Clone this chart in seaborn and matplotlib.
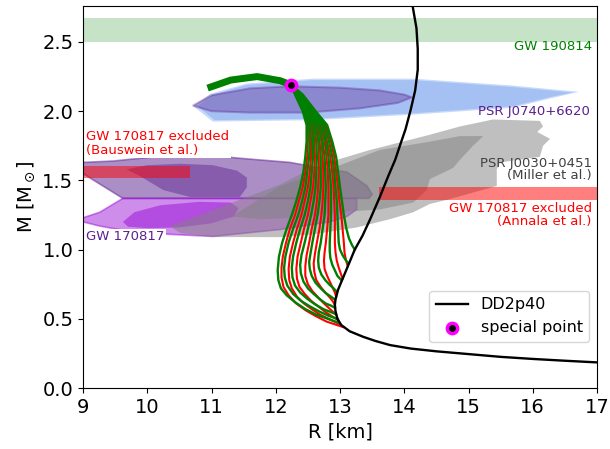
import matplotlib
matplotlib.use("Agg")
import matplotlib.pyplot as plt
import seaborn as sns

# ---------------- data ----------------
# DD2p40 mass-radius relation
dd2_R = [14.10, 14.13, 14.19, 14.21, 14.21, 14.17, 14.10, 14.02, 13.95, 13.86, 13.75, 13.62,
         13.47, 13.35, 13.23, 13.10, 12.97, 12.93, 12.92, 12.93, 12.96, 13.02, 13.15, 13.36,
         13.55, 13.78, 14.10, 14.50, 15.00, 15.50, 16.00, 16.50, 17.00]
dd2_M = [2.85, 2.76, 2.60, 2.45, 2.30, 2.15, 2.01, 1.87, 1.775, 1.65, 1.53, 1.38,
         1.22, 1.10, 1.00, 0.855, 0.71, 0.64, 0.60, 0.555, 0.50, 0.455, 0.41, 0.37,
         0.34, 0.31, 0.285, 0.265, 0.245, 0.225, 0.21, 0.197, 0.185]

# hybrid branches (green family)
g_R = [
    [12.24, 12.30, 12.42, 12.48, 12.48, 12.46, 12.43, 12.38, 12.32, 12.25, 12.17, 12.10, 12.05, 12.03,
     12.04, 12.08, 12.17, 12.30, 12.46, 12.63, 12.81, 12.99],
    [12.24, 12.31, 12.44, 12.52, 12.53, 12.52, 12.49, 12.46, 12.41, 12.35, 12.27, 12.20, 12.15, 12.13,
     12.14, 12.18, 12.27, 12.39, 12.53, 12.69, 12.83, 12.96],
    [12.24, 12.33, 12.47, 12.56, 12.58, 12.58, 12.56, 12.54, 12.50, 12.45, 12.38, 12.32, 12.27, 12.25,
     12.26, 12.30, 12.38, 12.49, 12.61, 12.74, 12.85, 12.93],
    [12.24, 12.34, 12.49, 12.60, 12.63, 12.64, 12.63, 12.62, 12.59, 12.55, 12.50, 12.45, 12.40, 12.38,
     12.39, 12.43, 12.50, 12.59, 12.69, 12.78, 12.86, 12.92],
    [12.24, 12.36, 12.52, 12.64, 12.68, 12.70, 12.70, 12.70, 12.68, 12.65, 12.61, 12.57, 12.54, 12.52,
     12.53, 12.56, 12.62, 12.70, 12.78, 12.86, 12.92],
    [12.24, 12.37, 12.54, 12.68, 12.73, 12.76, 12.77, 12.78, 12.77, 12.76, 12.73, 12.70, 12.67, 12.66,
     12.67, 12.71, 12.77, 12.84, 12.90, 12.94],
    [12.24, 12.38, 12.57, 12.72, 12.78, 12.82, 12.84, 12.86, 12.86, 12.86, 12.85, 12.84, 12.84, 12.85,
     12.88, 12.92, 12.96, 13.02],
    [12.24, 12.40, 12.59, 12.76, 12.83, 12.88, 12.91, 12.93, 12.95, 12.96, 12.97, 12.98, 13.00, 13.04,
     13.08, 13.12],
    [12.24, 12.42, 12.62, 12.80, 12.88, 12.94, 12.97, 13.00, 13.03, 13.06, 13.10, 13.14, 13.19, 13.23],
]
g_M = [
    [2.19, 2.12, 2.00, 1.90, 1.78, 1.67, 1.56, 1.45, 1.35, 1.25, 1.15, 1.05, 0.95, 0.85,
     0.78, 0.72, 0.67, 0.62, 0.57, 0.53, 0.50, 0.47],
    [2.19, 2.12, 2.00, 1.90, 1.78, 1.67, 1.56, 1.45, 1.35, 1.25, 1.15, 1.05, 0.95, 0.87,
     0.80, 0.74, 0.68, 0.63, 0.59, 0.55, 0.52, 0.50],
    [2.19, 2.12, 2.00, 1.90, 1.78, 1.67, 1.56, 1.45, 1.35, 1.25, 1.15, 1.05, 0.95, 0.87,
     0.80, 0.74, 0.69, 0.645, 0.605, 0.57, 0.55, 0.535],
    [2.19, 2.12, 2.00, 1.90, 1.78, 1.67, 1.56, 1.45, 1.35, 1.25, 1.15, 1.05, 0.96, 0.89,
     0.83, 0.77, 0.72, 0.68, 0.64, 0.61, 0.595, 0.58],
    [2.19, 2.12, 2.00, 1.90, 1.78, 1.67, 1.56, 1.45, 1.35, 1.25, 1.15, 1.05, 0.97, 0.91,
     0.86, 0.81, 0.76, 0.72, 0.685, 0.66, 0.64],
    [2.19, 2.12, 2.00, 1.90, 1.78, 1.67, 1.56, 1.45, 1.35, 1.25, 1.15, 1.05, 0.98, 0.92,
     0.87, 0.82, 0.78, 0.745, 0.72, 0.70],
    [2.19, 2.12, 2.00, 1.90, 1.78, 1.67, 1.56, 1.45, 1.35, 1.25, 1.15, 1.05, 0.99, 0.94,
     0.89, 0.85, 0.81, 0.78],
    [2.19, 2.12, 2.00, 1.90, 1.78, 1.67, 1.56, 1.45, 1.35, 1.25, 1.15, 1.05, 1.00, 0.96,
     0.93, 0.905],
    [2.19, 2.12, 2.00, 1.90, 1.78, 1.67, 1.56, 1.45, 1.35, 1.25, 1.15, 1.08, 1.03, 1.00],
]

# hybrid branches (red family)
r_R = [
    [12.24, 12.31, 12.43, 12.50, 12.50, 12.49, 12.46, 12.42, 12.36, 12.30, 12.22, 12.16, 12.11, 12.09,
     12.09, 12.12, 12.20, 12.32, 12.47, 12.62, 12.79, 12.92, 13.05],
    [12.24, 12.32, 12.46, 12.54, 12.55, 12.55, 12.53, 12.50, 12.45, 12.40, 12.33, 12.27, 12.22, 12.20,
     12.21, 12.25, 12.33, 12.44, 12.56, 12.69, 12.82, 12.91, 13.00],
    [12.24, 12.34, 12.48, 12.58, 12.60, 12.61, 12.60, 12.58, 12.54, 12.50, 12.44, 12.39, 12.34, 12.32,
     12.33, 12.37, 12.45, 12.55, 12.66, 12.77, 12.87, 12.97],
    [12.24, 12.35, 12.51, 12.62, 12.66, 12.67, 12.67, 12.66, 12.64, 12.61, 12.56, 12.52, 12.48, 12.46,
     12.46, 12.50, 12.57, 12.65, 12.73, 12.81, 12.88, 12.94],
    [12.24, 12.37, 12.53, 12.66, 12.71, 12.73, 12.74, 12.74, 12.73, 12.71, 12.68, 12.64, 12.61, 12.59,
     12.60, 12.63, 12.70, 12.77, 12.84, 12.89, 12.92],
    [12.24, 12.38, 12.56, 12.70, 12.76, 12.79, 12.81, 12.82, 12.82, 12.82, 12.80, 12.78, 12.76, 12.75,
     12.76, 12.80, 12.85, 12.89, 12.92, 12.94],
    [12.24, 12.39, 12.58, 12.74, 12.80, 12.85, 12.88, 12.90, 12.91, 12.92, 12.92, 12.92, 12.93, 12.95,
     12.98, 13.01, 13.04],
    [12.24, 12.41, 12.61, 12.78, 12.86, 12.91, 12.94, 12.97, 12.99, 13.02, 13.04, 13.06, 13.07, 13.09,
     13.12],
]
r_M = [
    [2.19, 2.12, 2.00, 1.90, 1.78, 1.67, 1.56, 1.45, 1.35, 1.25, 1.15, 1.05, 0.95, 0.87,
     0.80, 0.73, 0.67, 0.61, 0.56, 0.52, 0.48, 0.46, 0.44],
    [2.19, 2.12, 2.00, 1.90, 1.78, 1.67, 1.56, 1.45, 1.35, 1.25, 1.15, 1.05, 0.95, 0.86,
     0.78, 0.72, 0.66, 0.61, 0.57, 0.53, 0.50, 0.48, 0.46],
    [2.19, 2.12, 2.00, 1.90, 1.78, 1.67, 1.56, 1.45, 1.35, 1.25, 1.15, 1.05, 0.95, 0.86,
     0.79, 0.73, 0.68, 0.63, 0.59, 0.55, 0.52, 0.49],
    [2.19, 2.12, 2.00, 1.90, 1.78, 1.67, 1.56, 1.45, 1.35, 1.25, 1.15, 1.05, 0.96, 0.88,
     0.81, 0.75, 0.70, 0.66, 0.62, 0.585, 0.555, 0.53],
    [2.19, 2.12, 2.00, 1.90, 1.78, 1.67, 1.56, 1.45, 1.35, 1.25, 1.15, 1.05, 0.97, 0.90,
     0.84, 0.78, 0.73, 0.69, 0.655, 0.625, 0.60],
    [2.19, 2.12, 2.00, 1.90, 1.78, 1.67, 1.56, 1.45, 1.35, 1.25, 1.15, 1.05, 0.98, 0.92,
     0.86, 0.81, 0.76, 0.72, 0.69, 0.66],
    [2.19, 2.12, 2.00, 1.90, 1.78, 1.67, 1.56, 1.45, 1.35, 1.25, 1.15, 1.05, 0.98, 0.92,
     0.87, 0.83, 0.79],
    [2.19, 2.12, 2.00, 1.90, 1.78, 1.67, 1.56, 1.45, 1.35, 1.25, 1.15, 1.05, 0.98, 0.93,
     0.88],
]

# unstable (thick) branch beyond the special point
top_R = [10.99, 11.30, 11.71, 12.07, 12.24]
top_M = [2.175, 2.225, 2.25, 2.22, 2.19]

special_R = [12.24]
special_M = [2.19]

# PSR J0740+6620 contours
blue1_R = [10.72, 10.98, 11.55, 12.58, 14.14, 15.69, 16.72, 16.30, 15.69, 14.14, 12.58, 11.02]
blue1_M = [2.035, 2.125, 2.20, 2.235, 2.235, 2.185, 2.14, 2.095, 2.025, 1.975, 1.935, 1.925]
blue2_R = [10.78, 11.02, 11.55, 12.58, 14.14, 15.69, 16.62, 16.25, 15.69, 14.14, 12.58, 11.05]
blue2_M = [2.035, 2.12, 2.19, 2.225, 2.225, 2.175, 2.135, 2.10, 2.035, 1.985, 1.945, 1.935]
j0740p_R = [10.71, 11.00, 11.60, 12.22, 13.00, 13.62, 14.00, 14.12, 13.90, 13.30, 12.50, 11.60, 11.00]
j0740p_M = [2.04, 2.115, 2.165, 2.18, 2.17, 2.15, 2.12, 2.10, 2.06, 2.02, 1.99, 1.99, 2.00]

# PSR J0030+0451 contours (Miller et al.)
gray1_R = [10.35, 10.82, 11.44, 12.07, 12.53, 12.89, 13.47, 13.98, 14.40, 14.87, 15.18, 15.38,
           16.11, 16.16, 16.07, 16.27, 16.16, 16.11, 15.49, 15.44, 15.44, 14.67, 14.40, 14.14,
           13.78, 13.26, 12.58, 12.07, 11.02, 10.51]
gray1_M = [1.17, 1.25, 1.36, 1.47, 1.58, 1.64, 1.72, 1.78, 1.83, 1.89, 1.92, 1.94,
           1.93, 1.89, 1.85, 1.80, 1.75, 1.67, 1.63, 1.58, 1.46, 1.36, 1.33, 1.27,
           1.22, 1.16, 1.11, 1.09, 1.09, 1.12]
gray2_R = [11.32, 12.07, 12.89, 13.62, 14.40, 14.87, 15.23, 15.07, 14.87, 14.76, 14.40, 14.35,
           14.14, 13.62, 13.11, 12.38, 11.75]
gray2_M = [1.24, 1.46, 1.59, 1.72, 1.78, 1.82, 1.82, 1.75, 1.65, 1.59, 1.51, 1.43,
           1.34, 1.29, 1.275, 1.23, 1.22]

# GW170817 contours
gwA_out_R = [9.00, 9.00, 9.10, 9.62, 13.45, 13.50, 13.42, 13.11, 12.58, 12.22, 11.44, 10.77, 10.00, 9.47]
gwA_out_M = [1.63, 1.55, 1.52, 1.37, 1.37, 1.40, 1.46, 1.56, 1.60, 1.63, 1.66, 1.69, 1.665, 1.64]
gwA_in_R = [9.68, 10.00, 10.51, 11.02, 11.40, 11.55, 11.55, 11.44, 10.67, 10.25, 9.89]
gwA_in_M = [1.58, 1.61, 1.62, 1.61, 1.57, 1.52, 1.45, 1.38, 1.38, 1.43, 1.53]
gwB_out_R = [9.62, 13.26, 13.26, 13.11, 12.84, 12.07, 11.02, 10.35, 9.73, 9.26, 9.00, 9.00, 9.26]
gwB_out_M = [1.37, 1.37, 1.29, 1.24, 1.20, 1.145, 1.095, 1.11, 1.13, 1.17, 1.20, 1.23, 1.27]
gwB_in_R = [9.62, 9.80, 10.20, 10.80, 11.30, 11.42, 11.35, 11.00, 10.50, 10.00, 9.70]
gwB_in_M = [1.20, 1.27, 1.32, 1.345, 1.34, 1.30, 1.24, 1.19, 1.16, 1.155, 1.165]

# mass bands / exclusions
gw190814_M = [2.50, 2.67]
bauswein_R = [9.0, 10.66]
bauswein_M = [1.515, 1.605]
annala_R = [13.61, 17.0]
annala_M = [1.36, 1.455]

x_ticks = [9, 10, 11, 12, 13, 14, 15, 16, 17]
y_ticks = [0.0, 0.5, 1.0, 1.5, 2.0, 2.5]

# ---------------- plot ----------------
fig = plt.figure(figsize=(6.1, 4.49), dpi=100)
ax = fig.add_axes([83 / 610, 61 / 449, 514 / 610, 382 / 449])

purple_c = "#5b1f8f"

ax.axhspan(gw190814_M[0], gw190814_M[1], color="green", alpha=0.22, lw=0, zorder=1)

ax.fill(blue1_R, blue1_M, color="cornflowerblue", alpha=0.35, lw=0, zorder=1)
ax.fill(blue2_R, blue2_M, color="cornflowerblue", alpha=0.35, lw=0, zorder=1)
ax.fill(j0740p_R, j0740p_M, facecolor=purple_c, alpha=0.35, edgecolor=purple_c, lw=1.5, zorder=1.1)

ax.fill(gwA_out_R, gwA_out_M, facecolor=purple_c, edgecolor=purple_c, alpha=0.5, lw=1.2, zorder=1.2)
ax.fill(gwA_in_R, gwA_in_M, facecolor=purple_c, alpha=0.45, lw=0, zorder=1.2)
ax.fill(gwB_out_R, gwB_out_M, facecolor="darkviolet", edgecolor="darkviolet", alpha=0.45, lw=1.2, zorder=1.2)
ax.fill(gwB_in_R, gwB_in_M, facecolor="darkviolet", alpha=0.45, lw=0, zorder=1.2)

ax.fill(gray1_R, gray1_M, color="gray", alpha=0.5, lw=0, zorder=1.3)
ax.fill(gray2_R, gray2_M, color="gray", alpha=0.5, lw=0, zorder=1.3)

ax.fill_between(bauswein_R, bauswein_M[0], bauswein_M[1], color="red", alpha=0.5, lw=0, zorder=1.5)
ax.fill_between(annala_R, annala_M[0], annala_M[1], color="red", alpha=0.5, lw=0, zorder=1.5)

for R, M in zip(r_R, r_M):
    sns.lineplot(x=R, y=M, sort=False, estimator=None, color="red", lw=1.5, ax=ax, zorder=3)
for R, M in zip(g_R, g_M):
    sns.lineplot(x=R, y=M, sort=False, estimator=None, color="green", lw=1.7, ax=ax, zorder=3.1)
sns.lineplot(x=top_R, y=top_M, sort=False, estimator=None, color="green", lw=5, ax=ax, zorder=3.2)

sns.lineplot(x=dd2_R, y=dd2_M, sort=False, estimator=None, color="black", lw=1.7, ax=ax,
             zorder=4, label="DD2p40")
sns.scatterplot(x=special_R, y=special_M, color="black", edgecolor="magenta", s=55,
                linewidth=2.5, ax=ax, zorder=5, label="special point")

# annotations
fs = 9.5
ax.text(16.92, 2.47, "GW 190814", color="green", fontsize=fs, ha="right", va="center", zorder=6)
ax.text(16.89, 2.0, "PSR J0740+6620", color=purple_c, fontsize=fs, ha="right", va="center", zorder=6)
ax.text(16.92, 1.62, "PSR J0030+0451", color="#404040", fontsize=fs, ha="right", va="center", zorder=6)
ax.text(16.92, 1.535, "(Miller et al.)", color="#404040", fontsize=fs, ha="right", va="center", zorder=6)
ax.text(9.05, 1.765, "GW 170817 excluded\n(Bauswein et al.)", color="red", fontsize=fs,
        ha="left", va="center", linespacing=1.05, zorder=6,
        bbox=dict(facecolor="white", edgecolor="none", pad=1))
ax.text(16.92, 1.25, "GW 170817 excluded\n(Annala et al.)", color="red", fontsize=fs,
        ha="right", va="center", linespacing=0.95, multialignment="right", zorder=6,
        bbox=dict(facecolor="white", edgecolor="none", pad=1))
ax.text(9.05, 1.094, "GW 170817", color=purple_c, fontsize=fs, ha="left", va="center", zorder=6,
        bbox=dict(facecolor="white", edgecolor="none", pad=1))

ax.set_xlim(9, 17)
ax.set_ylim(0, 2.76)
ax.set_xticks(x_ticks)
ax.set_yticks(y_ticks)
ax.set_yticklabels([f"{v:.1f}" for v in y_ticks])
ax.tick_params(labelsize=14)
ax.set_xlabel("R [km]", fontsize=14)
ax.set_ylabel(r"M [M$_\odot$]", fontsize=14)

ax.legend(loc="lower right", bbox_to_anchor=(1.0, 0.10), fontsize=11.5)

fig.savefig("out.png", dpi=100)
